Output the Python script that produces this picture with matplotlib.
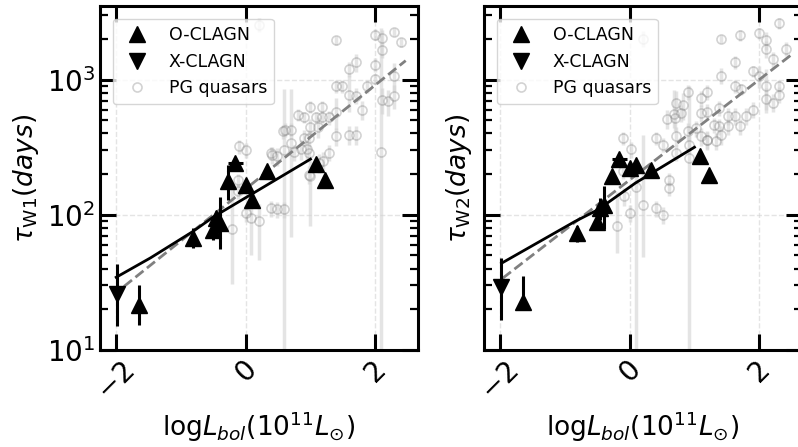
import matplotlib
matplotlib.use("Agg")
import matplotlib.pyplot as plt
import numpy as np

# --- CLAGN (O-CLAGN : triangles vers le haut, X-CLAGN : triangle vers le bas)
clagn_logL = [-1.65, -0.82, -0.50, -0.46, -0.40, -0.28, -0.16, 0.00, 0.09, 0.33, 1.08, 1.22]
clagn_xerr = [0, 0, 0, 0, 0, 0, 0.12, 0, 0, 0, 0, 0]
tau_w1 = [21.5, 67, 77, 95, 87.5, 177, 243, 167, 129, 212, 237, 182]
tau_w1_lo = [6.2, 10, 12, 8, 32, 48, 10, 10, 10, 10, 10, 8]
tau_w1_hi = [8.8, 13, 10, 8, 47, 57, 10, 10, 10, 10, 10, 8]
tau_w2 = [22.8, 73, 89, 112, 118, 192, 259, 222, 235, 213, 270, 198]
tau_w2_lo = [3, 10, 10, 20, 40, 15, 10, 10, 10, 10, 10, 8]
tau_w2_hi = [12.2, 10, 10, 20, 44, 15, 10, 10, 10, 10, 10, 8]

xclagn_logL = [-1.98]
xtau_w1, xtau_w1_lo, xtau_w1_hi = [26], [11], [17]
xtau_w2, xtau_w2_lo, xtau_w2_hi = [29], [12.3], [19]

# --- PG quasars, W1
pg_logL_w1 = [0.21, 1.39, 1.99, 2.11, 2.29, 2.39, 2.11, 1.70, 1.60, 1.99,
              2.29, 1.99, 1.39, 1.49, 1.60, 1.70, 1.88, 2.29, 2.11, 2.19,
              1.80, 0.99, 1.18, 0.81, 0.90, 1.08, 1.18, 1.29, 1.39, 0.60,
              0.70, 0.99, 1.11, 0.70, 0.90, 0.97, 1.39, 1.60, 1.70, 0.41,
              0.49, 0.85, 0.95, 2.09, -0.10, 0.00, -0.21, 0.00, 0.08, 0.21,
              0.39, 0.49, 0.59, 0.39, 0.98, 1.29, 1.00, 0.59, -0.12, -0.12,
              0.98, 1.13, 1.20, 0.57, 0.75]
pg_tau_w1 = [2550, 1950, 2150, 2030, 2240, 1890, 1650, 1340, 1200, 1290,
             1070, 1010, 900, 900, 775, 760, 900, 760, 710, 690,
             600, 630, 630, 550, 525, 525, 525, 525, 575, 425,
             425, 448, 448, 340, 371, 371, 382, 390, 390, 277,
             270, 305, 305, 290, 320, 302, 79, 103, 95, 90,
             112, 110, 110, 286, 286, 288, 192, 300, 180, 150,
             198, 243, 250, 415, 290]
pg_lo_w1 = [300, 150, 200, 200, 150, 150, 200, 200, 150, 150,
            250, 80, 100, 100, 200, 100, 100, 150, 150, 150,
            100, 60, 60, 60, 50, 50, 50, 60, 150, 50,
            50, 60, 80, 272, 50, 50, 60, 60, 60, 40,
            40, 50, 50, 285, 40, 40, 48, 15, 45, 44,
            15, 15, 15, 30, 40, 40, 110, 295, 20, 20,
            30, 40, 40, 50, 40]
pg_hi_w1 = [300, 150, 200, 300, 150, 150, 200, 200, 150, 150,
            250, 80, 100, 100, 300, 100, 100, 150, 150, 150,
            100, 60, 60, 60, 50, 50, 50, 60, 150, 50,
            50, 60, 80, 505, 50, 50, 60, 60, 60, 40,
            40, 50, 50, 2100, 40, 40, 82, 15, 35, 30,
            15, 15, 15, 30, 40, 40, 60, 550, 20, 20,
            30, 40, 40, 50, 40]

# --- PG quasars, W2
pg_logL_w2 = [0.20, 1.41, 1.71, 2.00, 2.31, 2.11, 2.11, 2.42, 2.21, 1.62,
              1.90, 1.41, 2.00, 1.62, 1.72, 2.11, 2.31, 2.31, 2.10, 2.21,
              0.90, 1.20, 1.10, 0.71, 0.82, 0.58, 0.70, 0.79, 1.10, 1.20,
              1.38, 1.51, 1.62, 1.71, 1.80, 1.90, 1.30, 1.38, 1.41, 1.51,
              -0.10, 0.02, 0.40, 0.51, 0.71, 0.90, 1.02, 1.10, 1.20, 0.71,
              0.92, 0.92, 0.61, 0.61, 0.20, 0.40, 0.51, 0.00, -0.19, -0.10,
              -0.09, 1.20, 1.33, 0.09, 0.68]
pg_tau_w2 = [2000, 2000, 2120, 2200, 2600, 1950, 1690, 1690, 1410, 1340,
             1150, 1070, 1060, 900, 845, 900, 900, 775, 720, 676,
             805, 805, 730, 676, 650, 513, 520, 565, 565, 580,
             615, 540, 540, 450, 540, 600, 464, 450, 390, 450,
             370, 305, 370, 330, 385, 414, 438, 380, 360, 288,
             330, 263, 182, 158, 118, 112, 100, 103, 83, 209,
             137, 356, 350, 160, 560]
pg_lo_w2 = [250, 150, 200, 200, 250, 300, 250, 200, 200, 150,
            100, 150, 200, 100, 80, 300, 100, 100, 150, 100,
            100, 100, 100, 100, 150, 80, 100, 80, 80, 80,
            80, 80, 80, 60, 80, 80, 60, 60, 60, 60,
            40, 40, 40, 40, 60, 60, 60, 60, 60, 40,
            50, 258, 20, 20, 69, 15, 15, 15, 31, 25,
            20, 50, 50, 158, 120]
pg_hi_w2 = [300, 150, 200, 200, 250, 300, 250, 200, 200, 150,
            100, 150, 200, 100, 80, 300, 100, 100, 150, 100,
            100, 100, 100, 150, 150, 80, 100, 80, 80, 80,
            80, 80, 80, 60, 80, 80, 60, 60, 60, 60,
            40, 40, 40, 40, 60, 60, 60, 60, 60, 40,
            50, 630, 20, 20, 272, 15, 15, 15, 65, 25,
            20, 50, 50, 30, 280]

# --- courbes : modele CLAGN (trait plein) et ajustement PG (tirets)
model_logL_w1 = [-2.0, -1.47, -0.82, -0.49, 1.0]
model_tau_w1 = [34.5, 48, 75, 97, 258]
model_logL_w2 = [-1.98, -0.85, -0.49, 0.09, 1.0]
model_tau_w2 = [43.8, 89, 109, 172, 316]
fit_logL_w1 = [-1.88, 2.47]
fit_tau_w1 = [29.5, 1380]
fit_logL_w2 = [-1.96, 2.50]
fit_tau_w2 = [34, 1530]

panneaux = [
    (tau_w1, tau_w1_lo, tau_w1_hi, xtau_w1, xtau_w1_lo, xtau_w1_hi,
     pg_logL_w1, pg_tau_w1, pg_lo_w1, pg_hi_w1,
     model_logL_w1, model_tau_w1, fit_logL_w1, fit_tau_w1, r'$\tau_{\rm W1}(days)$'),
    (tau_w2, tau_w2_lo, tau_w2_hi, xtau_w2, xtau_w2_lo, xtau_w2_hi,
     pg_logL_w2, pg_tau_w2, pg_lo_w2, pg_hi_w2,
     model_logL_w2, model_tau_w2, fit_logL_w2, fit_tau_w2, r'$\tau_{\rm W2}(days)$'),
]

fig = plt.figure(figsize=(7.98, 4.47), dpi=100)
ax1 = fig.add_axes([0.1253, 0.217, 0.3985, 0.7696])
ax2 = fig.add_axes([0.6065, 0.217, 0.3985, 0.7696], sharey=ax1)

for ax, p in zip([ax1, ax2], panneaux):
    (t, tlo, thi, xt, xtlo, xthi, pgx, pgt, pglo, pghi, mx, mt, fx, ft, ylab) = p

    # PG quasars en fond
    ax.errorbar(pgx, pgt, yerr=[pglo, pghi], fmt='none', ecolor='lightgray',
                elinewidth=2.5, alpha=0.6, zorder=1)
    ax.plot(pgx, pgt, 'o', ms=6.5, mfc='none', mec='gray', mew=1.2, alpha=0.35,
            zorder=2, label='PG quasars')

    ax.plot(fx, ft, '--', color='gray', lw=2, zorder=3)
    ax.plot(mx, mt, '-', color='black', lw=2, zorder=3)

    # CLAGN
    ax.errorbar(clagn_logL, t, xerr=clagn_xerr, yerr=[tlo, thi], fmt='none',
                ecolor='black', elinewidth=2.2, zorder=4)
    ax.errorbar(xclagn_logL, xt, yerr=[xtlo, xthi], fmt='none',
                ecolor='black', elinewidth=2.2, zorder=4)
    ax.plot(clagn_logL, t, '^', color='black', ms=11, zorder=5, label='O-CLAGN')
    ax.plot(xclagn_logL, xt, 'v', color='black', ms=11, zorder=5, label='X-CLAGN')

    ax.set_yscale('log')
    ax.set_ylim(10, 3500)
    ax.set_xlim(-2.25, 2.66)
    ax.set_xticks([-2, 0, 2])
    ax.grid(True, which='major', ls='--', color='lightgray', lw=1, alpha=0.6)

    ax.tick_params(which='major', direction='in', length=11.5, width=2.2,
                   top=True, right=True, labelsize=20)
    ax.tick_params(which='minor', direction='in', length=6, width=1.6,
                   top=True, right=True)
    ax.tick_params(axis='x', labelrotation=45)
    for s in ax.spines.values():
        s.set_linewidth(2.2)

    ax.set_xlabel(r'log$L_{bol}$($10^{11}L_{\odot}$)', fontsize=19)
    ax.set_ylabel(ylab, fontsize=19)

    handles, labels = ax.get_legend_handles_labels()
    ordre = [labels.index('O-CLAGN'), labels.index('X-CLAGN'), labels.index('PG quasars')]
    ax.legend([handles[i] for i in ordre], [labels[i] for i in ordre],
              loc='upper left', fontsize=12.5, borderaxespad=0.75)

plt.setp(ax2.get_yticklabels(), visible=False)

plt.savefig('out.png', dpi=100)
